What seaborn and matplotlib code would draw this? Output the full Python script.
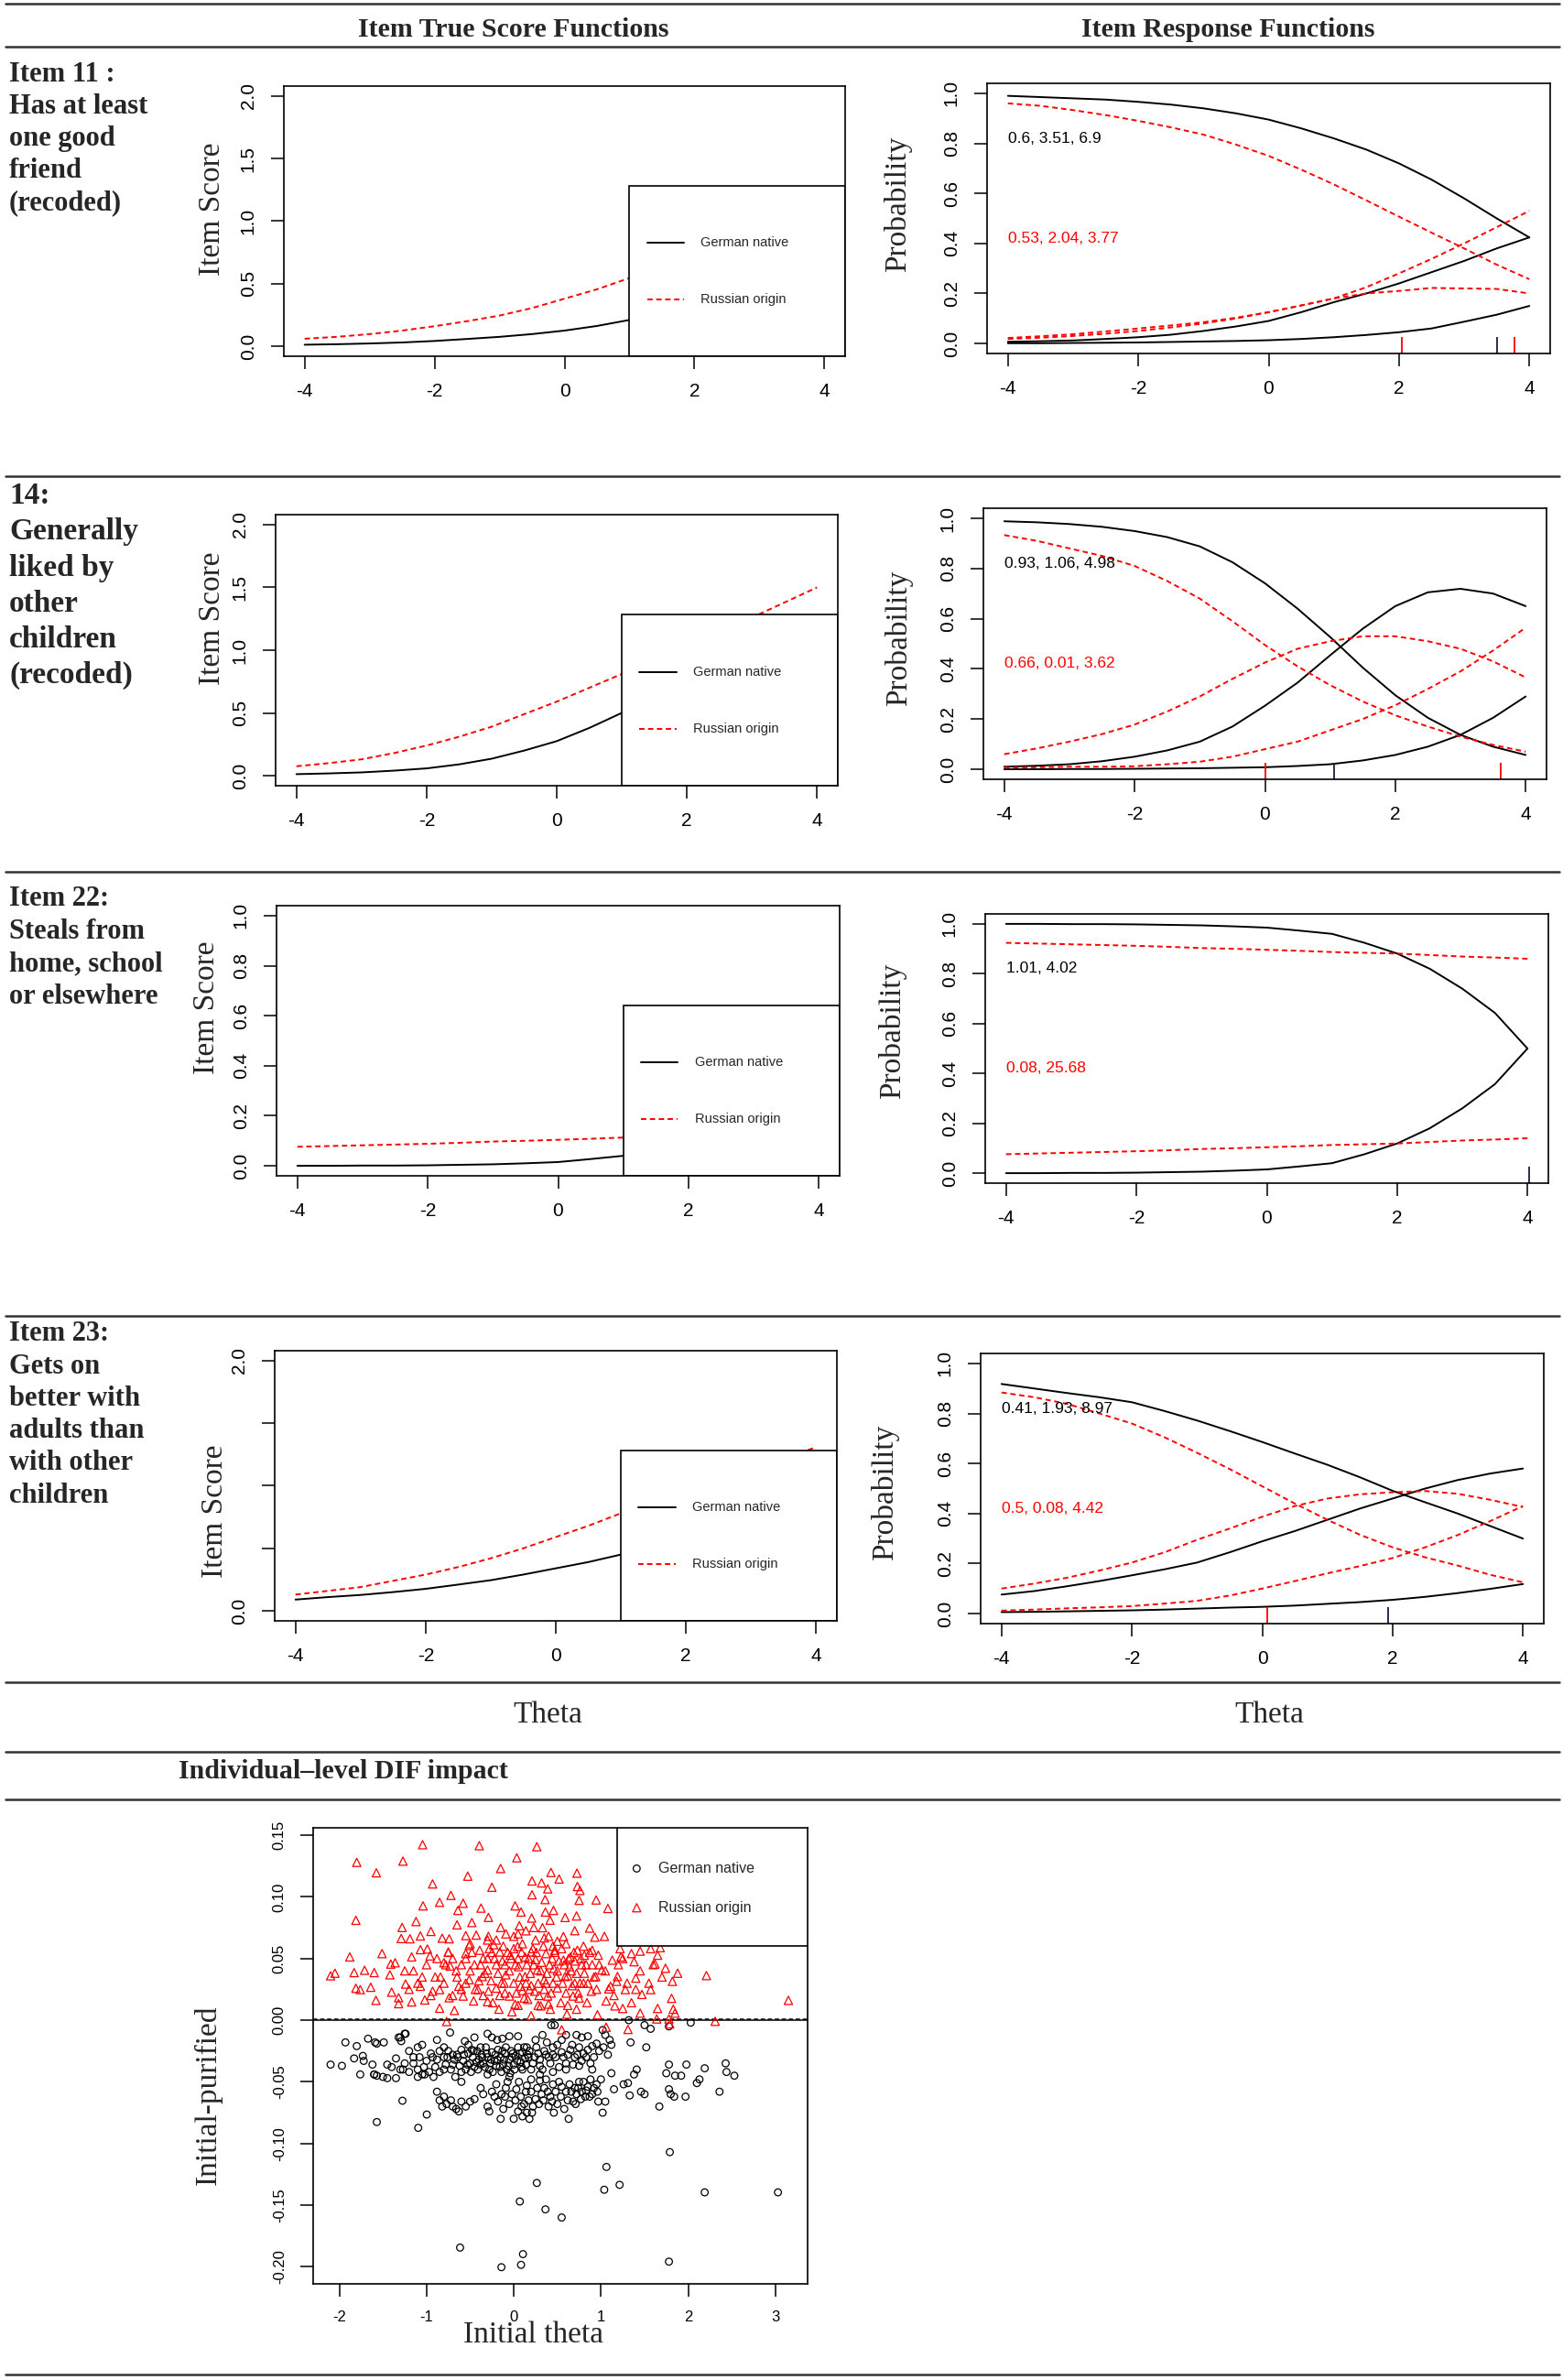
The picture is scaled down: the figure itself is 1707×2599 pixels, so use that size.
import numpy as np
import pandas as pd
import seaborn as sns
import matplotlib.pyplot as plt
from matplotlib.patches import Rectangle
from matplotlib.lines import Line2D

# ---- data ----
theta = [-4, -3.5, -3, -2.5, -2, -1.5, -1, -0.5, 0, 0.5, 1, 1.5, 2, 2.5, 3, 3.5, 4]

# Item 11
score_de11 = [0.012, 0.016, 0.022, 0.030, 0.042, 0.058, 0.075, 0.097, 0.125, 0.162, 0.21, 0.27, 0.34, 0.42, 0.51, 0.61, 0.72]
score_ru11 = [0.06, 0.075, 0.097, 0.125, 0.16, 0.20, 0.245, 0.305, 0.38, 0.455, 0.545, 0.65, 0.77, 0.90, 1.02, 1.15, 1.26]
de11_p0 = [0.99, 0.985, 0.98, 0.975, 0.966, 0.955, 0.94, 0.92, 0.895, 0.86, 0.82, 0.775, 0.72, 0.655, 0.58, 0.50, 0.424]
de11_p1 = [0.007, 0.009, 0.012, 0.018, 0.025, 0.035, 0.05, 0.068, 0.09, 0.125, 0.165, 0.20, 0.24, 0.285, 0.33, 0.38, 0.424]
de11_p2 = [0.001, 0.001, 0.002, 0.003, 0.004, 0.006, 0.008, 0.010, 0.013, 0.018, 0.025, 0.034, 0.045, 0.06, 0.087, 0.115, 0.15]
ru11_p0 = [0.96, 0.95, 0.933, 0.913, 0.89, 0.864, 0.835, 0.795, 0.75, 0.695, 0.636, 0.572, 0.507, 0.443, 0.38, 0.315, 0.257]
ru11_p1 = [0.022, 0.029, 0.037, 0.048, 0.06, 0.072, 0.085, 0.103, 0.125, 0.152, 0.18, 0.20, 0.21, 0.222, 0.22, 0.218, 0.20]
ru11_p2 = [0.018, 0.023, 0.03, 0.039, 0.05, 0.064, 0.08, 0.10, 0.125, 0.152, 0.18, 0.225, 0.28, 0.338, 0.40, 0.465, 0.53]

# Item 14
score_de14 = [0.012, 0.018, 0.026, 0.04, 0.058, 0.09, 0.135, 0.2, 0.275, 0.38, 0.5, 0.635, 0.765, 0.885, 0.99, 1.11, 1.23]
score_ru14 = [0.075, 0.10, 0.13, 0.18, 0.24, 0.31, 0.39, 0.49, 0.59, 0.70, 0.81, 0.93, 1.04, 1.15, 1.26, 1.38, 1.5]
de14_p0 = [0.988, 0.984, 0.977, 0.966, 0.949, 0.925, 0.888, 0.825, 0.741, 0.64, 0.527, 0.405, 0.295, 0.205, 0.137, 0.09, 0.057]
de14_p1 = [0.01, 0.014, 0.02, 0.032, 0.05, 0.075, 0.11, 0.17, 0.253, 0.345, 0.454, 0.56, 0.65, 0.705, 0.719, 0.70, 0.65]
de14_p2 = [0.0, 0.0, 0.001, 0.001, 0.002, 0.003, 0.004, 0.006, 0.008, 0.013, 0.02, 0.035, 0.057, 0.09, 0.137, 0.205, 0.29]
ru14_p0 = [0.933, 0.91, 0.88, 0.85, 0.81, 0.75, 0.68, 0.59, 0.495, 0.41, 0.335, 0.27, 0.215, 0.17, 0.13, 0.097, 0.07]
ru14_p1 = [0.06, 0.083, 0.11, 0.14, 0.178, 0.23, 0.29, 0.36, 0.425, 0.48, 0.51, 0.53, 0.53, 0.51, 0.48, 0.43, 0.366]
ru14_p2 = [0.007, 0.008, 0.01, 0.01, 0.012, 0.02, 0.03, 0.05, 0.08, 0.11, 0.155, 0.20, 0.255, 0.32, 0.39, 0.473, 0.564]

# Item 22 (binary item: score equals P(1))
de22_p0 = [1.0, 1.0, 0.999, 0.999, 0.998, 0.996, 0.994, 0.99, 0.985, 0.973, 0.96, 0.924, 0.881, 0.82, 0.74, 0.643, 0.5]
de22_p1 = [0.0, 0.0, 0.001, 0.001, 0.002, 0.004, 0.006, 0.01, 0.015, 0.027, 0.04, 0.076, 0.119, 0.18, 0.26, 0.357, 0.5]
ru22_p0 = [0.924, 0.921, 0.918, 0.915, 0.912, 0.908, 0.903, 0.9, 0.896, 0.892, 0.887, 0.884, 0.881, 0.875, 0.869, 0.865, 0.86]
ru22_p1 = [0.076, 0.079, 0.082, 0.085, 0.088, 0.092, 0.097, 0.1, 0.104, 0.108, 0.113, 0.116, 0.119, 0.125, 0.131, 0.135, 0.14]

# Item 23
score_de23 = [0.09, 0.11, 0.127, 0.15, 0.176, 0.21, 0.245, 0.29, 0.34, 0.39, 0.45, 0.51, 0.57, 0.635, 0.70, 0.755, 0.815]
score_ru23 = [0.13, 0.16, 0.19, 0.24, 0.29, 0.35, 0.42, 0.5, 0.59, 0.68, 0.78, 0.87, 0.95, 1.03, 1.11, 1.21, 1.31]
de23_p0 = [0.918, 0.90, 0.882, 0.865, 0.845, 0.81, 0.772, 0.73, 0.686, 0.64, 0.595, 0.545, 0.491, 0.445, 0.40, 0.35, 0.30]
de23_p1 = [0.076, 0.09, 0.109, 0.13, 0.153, 0.177, 0.204, 0.245, 0.289, 0.33, 0.375, 0.42, 0.46, 0.50, 0.534, 0.56, 0.58]
de23_p2 = [0.006, 0.007, 0.009, 0.011, 0.013, 0.016, 0.02, 0.024, 0.027, 0.032, 0.039, 0.046, 0.055, 0.067, 0.082, 0.099, 0.118]
ru23_p0 = [0.884, 0.865, 0.839, 0.80, 0.76, 0.705, 0.643, 0.578, 0.509, 0.44, 0.375, 0.315, 0.265, 0.225, 0.192, 0.155, 0.125]
ru23_p1 = [0.10, 0.12, 0.143, 0.172, 0.204, 0.245, 0.295, 0.34, 0.387, 0.43, 0.46, 0.477, 0.485, 0.49, 0.479, 0.455, 0.426]
ru23_p2 = [0.012, 0.016, 0.021, 0.025, 0.03, 0.04, 0.051, 0.072, 0.10, 0.13, 0.161, 0.19, 0.222, 0.265, 0.314, 0.37, 0.43]

# parameter labels and thresholds (a, b1, b2)
params_de = ["0.6, 3.51, 6.9", "0.93, 1.06, 4.98", "1.01, 4.02", "0.41, 1.93, 8.97"]
params_ru = ["0.53, 2.04, 3.77", "0.66, 0.01, 3.62", "0.08, 25.68", "0.5, 0.08, 4.42"]
cuts_de = [[3.51, 6.9], [1.06, 4.98], [4.02], [1.93, 8.97]]
cuts_ru = [[2.04, 3.77], [0.01, 3.62], [25.68], [0.08, 4.42]]

item_labels = [
    ["Item 11 :", "Has at least", "one good", "friend", "(recoded)"],
    ["14:", "Generally", "liked by", "other", "children", "(recoded)"],
    ["Item 22:", "Steals from", "home, school", "or elsewhere"],
    ["Item 23:", "Gets on", "better with", "adults than", "with other", "children"],
]

# individual-level DIF impact: (initial theta, initial - purified)
german_pts = [
    (-1.57, -0.0826), (-1.095, -0.0873), (-0.997, -0.0765), (-1.276, -0.0653), (1.79, -0.107),
    (1.063, -0.119), (1.038, -0.1375), (1.214, -0.1335), (0.265, -0.132), (0.07, -0.147),
    (0.364, -0.1534), (0.55, -0.16), (-0.615, -0.1844), (0.106, -0.1897), (-0.141, -0.2003),
    (0.084, -0.1984), (1.78, -0.1958), (2.19, -0.1396), (3.03, -0.1396),
    (1.67, -0.070), (1.84, -0.062), (1.97, -0.062), (1.78, -0.036), (1.75, -0.043), (1.85, -0.045),
    (1.92, -0.045), (1.98, -0.036), (2.10, -0.051), (2.13, -0.048), (2.19, -0.039), (2.36, -0.058),
    (2.43, -0.035), (2.44, -0.042), (2.53, -0.045), (1.78, -0.056), (1.80, -0.060), (1.52, -0.022),
    (1.34, -0.018), (1.41, -0.040), (1.38, -0.044), (1.46, -0.058), (1.50, -0.060), (1.33, -0.061),
    (1.15, -0.056), (1.12, -0.043), (1.26, -0.052), (1.31, -0.051), (1.57, -0.007), (1.50, -0.004),
    (1.78, -0.005), (2.03, -0.002), (1.32, 0.000), (0.43, -0.004),
    (-2.10, -0.036), (-1.97, -0.037), (-1.93, -0.018), (-1.80, -0.021), (-1.83, -0.031),
    (-1.73, -0.029), (-1.72, -0.033), (-1.76, -0.044), (-1.67, -0.015), (-1.59, -0.018),
    (-1.57, -0.019), (-1.62, -0.036), (-1.60, -0.044), (-1.57, -0.045), (-1.49, -0.018),
    (-1.45, -0.047), (-1.35, -0.047), (-1.32, -0.014), (-1.24, -0.011), (-1.29, -0.017), (-1.27, -0.040),
    (-1.25, -0.011), (-1.30, -0.014), (-1.05, -0.020), (-1.10, -0.022), (-0.88, -0.016), (-0.80, -0.022),
    (-0.73, -0.010), (-0.56, -0.017), (-0.52, -0.020), (-0.45, -0.014), (-0.30, -0.011), (-0.25, -0.014),
    (-0.19, -0.016), (-0.13, -0.015), (-0.05, -0.013), (0.05, -0.013), (0.15, -0.022), (0.25, -0.016),
    (0.33, -0.012), (0.38, -0.018), (0.45, -0.022), (0.55, -0.016), (0.60, -0.012), (0.72, -0.012),
    (0.78, -0.014), (0.85, -0.013), (0.95, -0.019), (1.02, -0.008), (1.05, -0.012), (1.10, -0.016),
    (0.47, -0.004), (0.67, -0.020), (0.90, -0.021),
    (-1.45, -0.036), (-1.40, -0.038), (-1.35, -0.031), (-1.30, -0.040), (-1.25, -0.035), (-1.20, -0.042),
    (-1.15, -0.030), (-1.10, -0.040), (-1.05, -0.044), (-1.00, -0.033), (-0.95, -0.027), (-0.90, -0.038),
    (-0.85, -0.042), (-0.80, -0.030), (-0.78, -0.036), (-0.75, -0.025), (-0.72, -0.040), (-0.68, -0.032),
    (-0.65, -0.028), (-0.62, -0.037), (-0.60, -0.024), (-0.58, -0.033), (-0.55, -0.040), (-0.52, -0.027),
    (-0.50, -0.035), (-0.47, -0.030), (-0.45, -0.038), (-0.42, -0.025), (-0.40, -0.032), (-0.37, -0.028),
    (-0.35, -0.035), (-0.32, -0.022), (-0.30, -0.030), (-0.28, -0.040), (-0.25, -0.026), (-0.22, -0.033),
    (-0.20, -0.037), (-0.18, -0.024), (-0.15, -0.030), (-0.12, -0.036), (-0.10, -0.027), (-0.08, -0.040),
    (-0.05, -0.032), (-0.03, -0.025), (0.00, -0.036), (0.02, -0.029), (0.05, -0.022), (0.08, -0.034),
    (0.10, -0.026), (0.13, -0.031), (0.18, -0.025), (0.22, -0.035), (0.28, -0.027), (0.30, -0.037),
    (0.35, -0.025), (0.40, -0.030), (0.45, -0.028), (0.50, -0.020), (0.55, -0.026), (0.60, -0.035),
    (0.65, -0.024), (0.70, -0.030), (0.75, -0.022), (0.80, -0.027), (0.85, -0.024), (0.92, -0.030),
    (0.98, -0.025), (1.03, -0.022), (1.08, -0.028), (1.12, -0.020), (-0.67, -0.046), (-0.30, -0.044),
    (0.10, -0.040), (-0.60, -0.050), (-0.70, -0.028), (-0.48, -0.024), (-0.26, -0.032), (-0.02, -0.030),
    (0.16, -0.028), (-0.88, -0.032), (-0.38, -0.036), (-0.14, -0.042),
    (-0.85, -0.025), (-0.80, -0.040), (-0.76, -0.030), (-0.70, -0.036), (-0.64, -0.030), (-0.60, -0.042),
    (-0.57, -0.028), (-0.53, -0.036), (-0.49, -0.042), (-0.46, -0.025), (-0.43, -0.034), (-0.41, -0.040),
    (-0.38, -0.022), (-0.36, -0.030), (-0.33, -0.038), (-0.31, -0.027), (-0.27, -0.035), (-0.24, -0.042),
    (-0.21, -0.028), (-0.19, -0.032), (-0.16, -0.038), (-0.13, -0.025), (-0.11, -0.032), (-0.09, -0.022),
    (-0.06, -0.037), (-0.04, -0.043), (-0.01, -0.027), (0.01, -0.040), (0.04, -0.033), (0.07, -0.027),
    (0.09, -0.038), (0.12, -0.022), (0.14, -0.036), (0.17, -0.030), (0.20, -0.040), (0.24, -0.030),
    (0.26, -0.022), (0.30, -0.032), (0.33, -0.040), (0.37, -0.028), (0.42, -0.035), (0.48, -0.030),
    (0.52, -0.038), (0.57, -0.030), (0.62, -0.028), (0.68, -0.036), (0.73, -0.028), (0.78, -0.033),
    (0.83, -0.030), (0.88, -0.035), (-1.20, -0.025), (-1.15, -0.035), (-1.08, -0.030), (-1.03, -0.038),
    (-0.97, -0.042), (-0.93, -0.030),
    (-1.60, -0.044), (-1.50, -0.046), (-1.10, -0.046), (-1.02, -0.044), (-0.92, -0.046), (-0.88, -0.058),
    (-0.85, -0.065), (-0.82, -0.070), (-0.72, -0.065), (-0.70, -0.070), (-0.66, -0.072), (-0.63, -0.074),
    (-0.55, -0.070), (-0.50, -0.066), (-0.45, -0.064), (-0.38, -0.055), (-0.30, -0.070), (-0.28, -0.074),
    (-0.25, -0.058), (-0.20, -0.052), (-0.18, -0.066), (-0.15, -0.080), (-0.12, -0.072), (-0.10, -0.062),
    (-0.07, -0.050), (-0.05, -0.068), (0.00, -0.080), (0.03, -0.056), (0.05, -0.074), (0.08, -0.062),
    (0.10, -0.078), (0.12, -0.068), (0.15, -0.075), (0.18, -0.080), (0.20, -0.058), (0.22, -0.070),
    (0.25, -0.064), (0.30, -0.049), (0.32, -0.060), (0.35, -0.055), (0.40, -0.070), (0.42, -0.062),
    (0.45, -0.052), (0.50, -0.068), (0.55, -0.054), (0.58, -0.072), (0.62, -0.065), (0.63, -0.080),
    (0.66, -0.058), (0.70, -0.055), (0.72, -0.060), (0.75, -0.050), (0.78, -0.058), (0.82, -0.062),
    (0.85, -0.054), (0.88, -0.048), (0.90, -0.060), (0.95, -0.052), (0.97, -0.066), (1.00, -0.048),
    (1.02, -0.075), (1.05, -0.066), (0.60, -0.040), (0.75, -0.037), (0.90, -0.040), (0.45, -0.042),
    (0.30, -0.044), (-0.05, -0.046), (0.20, -0.048),
    (0.02, -0.065), (0.06, -0.050), (0.09, -0.070), (0.14, -0.058), (0.17, -0.065), (0.21, -0.075),
    (0.27, -0.055), (0.29, -0.068), (0.34, -0.065), (0.37, -0.048), (0.39, -0.058), (0.44, -0.066),
    (0.48, -0.058), (0.52, -0.050), (0.54, -0.062), (0.60, -0.058), (0.64, -0.052), (0.68, -0.066),
    (0.74, -0.055), (0.77, -0.064), (0.80, -0.050), (0.83, -0.057), (0.87, -0.062), (0.92, -0.055),
    (0.96, -0.058), (-0.02, -0.060), (-0.09, -0.055), (-0.14, -0.060), (-0.22, -0.062), (-0.35, -0.060),
    (-0.60, -0.066), (-0.77, -0.068), (-0.80, -0.062), (0.15, -0.053), (0.46, -0.075), (0.71, -0.068),
]

russian_pts = [
    (-1.045, 0.1423), (-0.395, 0.1415), (0.265, 0.1407), (0.035, 0.1317), (-1.80, 0.128), (-1.27, 0.129),
    (-1.575, 0.1195), (-0.15, 0.123), (-0.527, 0.1168), (0.427, 0.1198), (0.725, 0.1192), (0.52, 0.1145),
    (-0.93, 0.1105), (-0.25, 0.1078), (0.21, 0.1129), (0.32, 0.1113), (0.73, 0.1084), (0.76, 0.1052),
    (0.39, 0.1065), (-0.72, 0.1012), (0.21, 0.1017), (0.36, 0.0978), (0.75, 0.0972), (0.945, 0.0975),
    (-0.85, 0.0956), (-0.58, 0.0948), (-1.04, 0.0927), (-0.375, 0.0909), (0.016, 0.0927), (1.08, 0.0906),
    (-0.64, 0.089), (0.084, 0.0877), (0.363, 0.0877), (0.456, 0.089), (-1.81, 0.081), (-1.12, 0.080),
    (-0.29, 0.0834), (0.206, 0.0828), (0.417, 0.0811), (0.59, 0.0833), (0.72, 0.0845), (-0.65, 0.0773),
    (-0.48, 0.0792), (-0.15, 0.0752), (0.065, 0.0766), (0.23, 0.0752), (0.33, 0.075), (0.87, 0.0747),
    (-1.28, 0.0752), (-0.95, 0.072), (-1.07, 0.0683), (-1.29, 0.0662), (-1.19, 0.066), (-0.82, 0.0665),
    (-0.74, 0.066), (-0.55, 0.0686), (-0.43, 0.069), (-0.29, 0.068), (-0.09, 0.070), (0.14, 0.0725),
    (0.35, 0.0667), (0.57, 0.0678), (0.70, 0.0726), (1.04, 0.068), (0.93, 0.0673),
    (-1.88, 0.0513), (-1.51, 0.054), (-1.41, 0.0455), (-1.36, 0.0466), (-1.17, 0.0513), (-1.07, 0.0572),
    (-0.99, 0.0577), (-0.96, 0.0521), (-0.75, 0.0553), (-0.73, 0.0439), (-0.80, 0.0466), (-0.55, 0.054),
    (-0.51, 0.0606), (-0.39, 0.0567), (-0.23, 0.0612), (-0.16, 0.0553), (-0.04, 0.0527), (0.045, 0.0598),
    (0.13, 0.0513), (0.20, 0.0553), (0.25, 0.0492), (0.37, 0.054), (0.47, 0.0567), (0.57, 0.0487),
    (0.65, 0.0513), (0.73, 0.0567), (0.81, 0.0527), (0.90, 0.0567), (0.97, 0.0527), (1.13, 0.0487),
    (1.23, 0.0513), (1.35, 0.054), (1.38, 0.0474), (1.57, 0.058), (1.68, 0.0588), (1.65, 0.0527),
    (1.62, 0.0455), (1.74, 0.0421), (1.88, 0.0381), (1.82, 0.0315), (2.21, 0.0362), (3.15, 0.0161),
    (-2.10, 0.036), (-2.05, 0.0381), (-1.83, 0.0386), (-1.71, 0.0405), (-1.60, 0.0386), (-1.81, 0.0259),
    (-1.76, 0.0248), (-1.64, 0.0267), (-1.58, 0.0161), (-1.42, 0.0368), (-1.40, 0.0227), (-1.32, 0.0134),
    (-1.32, 0.0182), (-1.24, 0.0293), (-1.17, 0.0148), (-1.07, 0.0275), (-1.02, 0.0164), (-0.93, 0.0235),
    (-0.85, 0.0097), (-0.85, 0.0248), (-0.77, -0.0011), (-0.74, 0.0182), (-0.68, 0.0079), (-0.63, 0.0275),
    (-0.58, 0.0196), (-0.51, 0.0328), (-0.46, 0.0156), (-0.41, 0.0248), (-0.36, 0.0354), (-0.30, 0.0407),
    (-0.29, 0.0235), (-0.24, 0.0142), (-0.17, 0.0089), (-0.14, 0.0301), (-0.09, 0.0368), (-0.05, 0.0196),
    (-0.02, 0.0068), (0.016, 0.0129), (0.055, 0.0434), (0.08, 0.0275), (0.13, 0.0354), (0.16, 0.0169),
    (0.20, 0.0036), (0.24, 0.0235), (0.27, 0.0407), (0.31, 0.0116), (0.35, 0.0328), (0.39, 0.0196),
    (0.42, 0.0089), (0.46, 0.042), (0.50, 0.0262), (0.54, 0.0142), (0.55, -0.0078), (0.59, 0.0354),
    (0.61, 0.0049), (0.64, 0.0434), (0.68, 0.0196), (0.72, 0.0089), (0.76, 0.0301), (0.81, 0.0381),
    (0.84, 0.0142), (0.89, 0.0235), (0.94, 0.0354), (0.96, 0.0044), (1.01, 0.0407), (1.06, 0.0156),
    (1.06, -0.0057), (1.11, 0.0275), (1.16, 0.0116), (1.19, 0.0354), (1.25, 0.0095), (1.28, 0.0248),
    (1.31, -0.0075), (1.35, 0.0142), (1.40, 0.0341), (1.45, 0.0057), (1.47, 0.0209), (1.57, 0.0248),
    (1.64, 0.001), (1.65, 0.0095), (1.78, 0.001), (1.79, -0.003), (1.81, 0.0177), (1.83, 0.0089),
    (1.85, 0.0057), (2.31, -0.0009), (1.09, 0.0254), (1.18, 0.0315),
    (-0.30, 0.050), (-0.25, 0.055), (-0.20, 0.045), (-0.12, 0.060), (-0.05, 0.040), (0.00, 0.058),
    (0.05, 0.050), (0.10, 0.062), (0.15, 0.045), (0.22, 0.058), (0.28, 0.030), (0.32, 0.047),
    (0.38, 0.038), (0.44, 0.050), (0.50, 0.040), (0.55, 0.058), (0.62, 0.036), (0.67, 0.028),
    (0.70, 0.048), (0.78, 0.045), (0.85, 0.030), (0.90, 0.045), (-0.60, 0.045), (-0.65, 0.035),
    (-0.70, 0.050), (-0.55, 0.030), (-0.45, 0.045), (-0.40, 0.032), (-0.35, 0.050), (-0.90, 0.035),
    (-1.00, 0.045), (-1.10, 0.030), (-1.15, 0.040), (-0.95, 0.020), (-0.20, 0.026), (-0.10, 0.022),
    (0.00, 0.030), (0.10, 0.024), (0.20, 0.028), (0.35, 0.025), (0.45, 0.030), (0.60, 0.022),
    (0.75, 0.018), (0.95, 0.025), (-0.30, 0.015), (0.05, 0.012), (0.40, 0.013), (0.70, 0.030),
    (-0.80, 0.030), (-0.75, 0.055), (-0.50, 0.062), (-0.30, 0.065), (0.00, 0.068), (0.25, 0.065),
    (0.50, 0.064), (0.80, 0.060), (1.05, 0.040), (1.20, 0.045), (1.30, 0.030), (1.45, 0.040),
    (1.55, 0.030), (1.60, 0.045), (1.70, 0.035), (1.22, 0.058), (1.45, 0.056),
    (-0.55, 0.050), (-0.50, 0.040), (-0.48, 0.055), (-0.44, 0.025), (-0.38, 0.045), (-0.33, 0.038),
    (-0.28, 0.058), (-0.26, 0.032), (-0.22, 0.050), (-0.18, 0.038), (-0.16, 0.020), (-0.13, 0.048),
    (-0.11, 0.030), (-0.07, 0.055), (-0.03, 0.050), (0.02, 0.045), (0.03, 0.022), (0.07, 0.035),
    (0.09, 0.055), (0.12, 0.018), (0.14, 0.030), (0.17, 0.050), (0.19, 0.038), (0.23, 0.045),
    (0.26, 0.055), (0.29, 0.020), (0.31, 0.040), (0.34, 0.060), (0.37, 0.030), (0.41, 0.045),
    (0.43, 0.022), (0.47, 0.055), (0.49, 0.035), (0.52, 0.048), (0.56, 0.030), (0.58, 0.045),
    (0.63, 0.050), (0.66, 0.040), (0.69, 0.055), (0.72, 0.038), (0.74, 0.022), (0.77, 0.050),
    (0.80, 0.030), (0.83, 0.045), (0.87, 0.055), (0.92, 0.035), (0.98, 0.045), (-0.60, 0.025),
    (-0.66, 0.040), (-0.70, 0.020), (-0.78, 0.045), (-0.84, 0.035), (-0.88, 0.050), (-1.05, 0.035),
    (-1.20, 0.025), (-1.25, 0.040), (-0.20, 0.065), (0.05, 0.070), (0.40, 0.068), (0.60, 0.062),
    (-0.10, 0.045), (0.18, 0.025), (0.45, 0.060), (-0.35, 0.020), (0.28, 0.012), (0.62, 0.012),
    (1.15, 0.020), (1.25, 0.050), (1.40, 0.025),
]

# ---- figure setup ----
sns.set_style("white")
plt.rcParams['font.family'] = ['Liberation Sans', 'DejaVu Sans']
plt.rcParams['axes.unicode_minus'] = False
SERIF = ['Liberation Serif', 'DejaVu Serif']
RED = '#ff0000'
DASH = (0, (3, 2))
W, H = 1707, 2599

fig = plt.figure(figsize=(W / 100, H / 100), dpi=100)


def rect(x0, y0, x1, y1):
    return [x0 / W, 1 - y1 / H, (x1 - x0) / W, (y1 - y0) / H]


def ftext(x, y, s, **kw):
    fig.text(x / W, 1 - y / H, s, **kw)


def style_axes(ax, tick_fs=15):
    for sp in ax.spines.values():
        sp.set_visible(True)
        sp.set_color('black')
        sp.set_linewidth(1.2)
        sp.set_zorder(10)
    ax.tick_params(direction='out', length=10, width=1.1, pad=11, labelsize=tick_fs,
                   bottom=True, left=True, top=False, right=False, colors='black')
    for lbl in ax.get_yticklabels():
        lbl.set_rotation(90)
        lbl.set_va('center')
    ax.set_xlabel('')
    ax.set_ylabel('')


def curve(ax, y, red=False):
    if red:
        sns.lineplot(x=theta, y=y, ax=ax, color=RED, lw=1.4, linestyle=DASH, errorbar=None)
    else:
        sns.lineplot(x=theta, y=y, ax=ax, color='black', lw=1.4, errorbar=None)


# horizontal rules of the table
for yy in [4, 51, 520, 951.7, 1436.7, 1836.7, 1913, 1965, 2593]:
    fig.add_artist(Line2D([6 / W, 1703 / W], [1 - yy / H] * 2, color='#333333', lw=1.8))

ftext(561, 33, "Item True Score Functions", family=SERIF, weight='bold', fontsize=21.5,
      ha='center', va='center')
ftext(1341, 33, "Item Response Functions", family=SERIF, weight='bold', fontsize=21.5,
      ha='center', va='center')

# layout (pixels) for the four rows
left_boxes = [(310, 94, 923, 389), (301, 562, 915, 858), (302, 989, 917, 1284), (300, 1475, 914, 1770)]
right_boxes = [(1078, 91, 1693, 386), (1074, 555, 1689, 851), (1076, 998, 1691, 1292), (1071, 1478, 1686, 1773)]
label_first = [81.7, 541.7, 981.7, 1456.7]
label_step = [35.0, 39.2, 35.5, 35.3]
label_sizes = [22, 24, 22, 22]
ylab_left = [(232, 228), (232, 675), (226, 1100), (235, 1650)]
ylab_right = [(981, 223), (982, 697), (975, 1126), (967, 1630)]

scores = [(score_de11, score_ru11), (score_de14, score_ru14), (de22_p1, ru22_p1), (score_de23, score_ru23)]
probs_de = [[de11_p0, de11_p1, de11_p2], [de14_p0, de14_p1, de14_p2], [de22_p0, de22_p1], [de23_p0, de23_p1, de23_p2]]
probs_ru = [[ru11_p0, ru11_p1, ru11_p2], [ru14_p0, ru14_p1, ru14_p2], [ru22_p0, ru22_p1], [ru23_p0, ru23_p1, ru23_p2]]
score_max = [2.0, 2.0, 1.0, 2.0]

for i in range(4):
    # item description, one line at a time
    for k, line in enumerate(item_labels[i]):
        ftext(10, label_first[i] + k * label_step[i], line, family=SERIF, weight='bold',
              fontsize=label_sizes[i], ha='left', va='center')

    # ---- item true score panel ----
    ax = fig.add_axes(rect(*left_boxes[i]))
    g, r = scores[i]
    curve(ax, g)
    curve(ax, r, red=True)
    top = score_max[i]
    ax.set_xlim(-4.32, 4.32)
    ax.set_ylim(-0.04 * top, 1.04 * top)
    ax.set_xticks([-4, -2, 0, 2, 4])
    if top == 2.0:
        yt = [0, 0.5, 1.0, 1.5, 2.0]
    else:
        yt = [0, 0.2, 0.4, 0.6, 0.8, 1.0]
    ax.set_yticks(yt)
    ylabs = [f"{v:.1f}" for v in yt]
    if i == 3:
        ylabs = ["0.0", "", "", "", "2.0"]
    ax.set_yticklabels(ylabs)
    ax.set_xticklabels(["-4", "-2", "0", "2", "4"])
    style_axes(ax)
    # R style legend box in the lower right
    tr = ax.get_xaxis_transform()
    ax.add_patch(Rectangle((1.0, 0.0), 3.32, 0.632, transform=tr, facecolor='white',
                           edgecolor='black', lw=1.2, zorder=5))
    ax.plot([1.27, 1.84], [0.42, 0.42], transform=tr, color='black', lw=1.4, zorder=6)
    ax.plot([1.27, 1.84], [0.21, 0.21], transform=tr, color=RED, lw=1.4, linestyle=DASH, zorder=6)
    ax.text(2.1, 0.42, "German native", transform=tr, fontsize=10.5, va='center', zorder=7)
    ax.text(2.1, 0.21, "Russian origin", transform=tr, fontsize=10.5, va='center', zorder=7)
    ftext(*ylab_left[i], "Item Score", family=SERIF, fontsize=24, rotation=90, ha='center', va='center')

    # ---- item response panel ----
    ax = fig.add_axes(rect(*right_boxes[i]))
    for p in probs_de[i]:
        curve(ax, p)
    for p in probs_ru[i]:
        curve(ax, p, red=True)
    ax.set_xlim(-4.32, 4.32)
    ax.set_ylim(-0.04, 1.04)
    ax.vlines(cuts_de[i], -0.045, 0.027, color='#1c1c3c', lw=1.3, zorder=4)
    ax.vlines(cuts_ru[i], -0.045, 0.027, color=RED, lw=1.3, zorder=4)
    ax.text(-4.0, 0.82, params_de[i], fontsize=12.5, color='black', va='center', ha='left')
    ax.text(-4.0, 0.42, params_ru[i], fontsize=12.5, color=RED, va='center', ha='left')
    ax.set_xticks([-4, -2, 0, 2, 4])
    ax.set_xticklabels(["-4", "-2", "0", "2", "4"])
    yt = [0, 0.2, 0.4, 0.6, 0.8, 1.0]
    ax.set_yticks(yt)
    ax.set_yticklabels([f"{v:.1f}" for v in yt])
    style_axes(ax)
    ftext(*ylab_right[i], "Probability", family=SERIF, fontsize=24, rotation=90, ha='center', va='center')

ftext(598, 1873, "Theta", family=SERIF, fontsize=24, ha='center', va='center')
ftext(1386, 1873, "Theta", family=SERIF, fontsize=24, ha='center', va='center')
ftext(195, 1935, "Individual\u2013level DIF impact", family=SERIF, weight='bold', fontsize=21.5,
      ha='left', va='center')

# ---- individual-level DIF impact scatter ----
de = pd.DataFrame(german_pts, columns=['theta', 'diff'])
ru = pd.DataFrame(russian_pts, columns=['theta', 'diff'])
ax = fig.add_axes(rect(342, 1996, 882, 2494))
ax.axhline(0, color='black', lw=1.1, zorder=1)
ax.axhline(0.0008, color='black', lw=1.1, linestyle=(0, (3, 2)), zorder=1)
sns.scatterplot(data=de, x='theta', y='diff', ax=ax, marker='o', s=30, facecolors='none',
                edgecolor='black', linewidth=0.9, zorder=3)
sns.scatterplot(data=ru, x='theta', y='diff', ax=ax, marker='^', s=42, facecolors='none',
                edgecolor=RED, linewidth=0.9, zorder=3)
ax.set_xlim(-2.30, 3.37)
ax.set_ylim(-0.2138, 0.156)
ax.set_xticks([-2, -1, 0, 1, 2, 3])
ax.set_xticklabels(["-2", "-1", "0", "1", "2", "3"])
yt = [-0.20, -0.15, -0.10, -0.05, 0.0, 0.05, 0.10, 0.15]
ax.set_yticks(yt)
ax.set_yticklabels([f"{v:.2f}" for v in yt])
style_axes(ax, tick_fs=12)
ax.add_patch(Rectangle((1.19, 0.060), 2.3, 0.1, facecolor='white', edgecolor='black', lw=1.2, zorder=5))
ax.scatter([1.41], [0.123], marker='o', s=30, facecolors='none', edgecolors='black', lw=0.9, zorder=6)
ax.scatter([1.41], [0.0912], marker='^', s=42, facecolors='none', edgecolors=RED, lw=0.9, zorder=6)
ax.text(1.66, 0.123, "German native", fontsize=11.5, va='center', zorder=7)
ax.text(1.66, 0.0912, "Russian origin", fontsize=11.5, va='center', zorder=7)

ftext(227, 2288, "Initial-purified", family=SERIF, fontsize=24, rotation=90, ha='center', va='center')
ftext(582, 2550, "Initial theta", family=SERIF, fontsize=24, ha='center', va='center')

fig.savefig("out.png", dpi=100)
